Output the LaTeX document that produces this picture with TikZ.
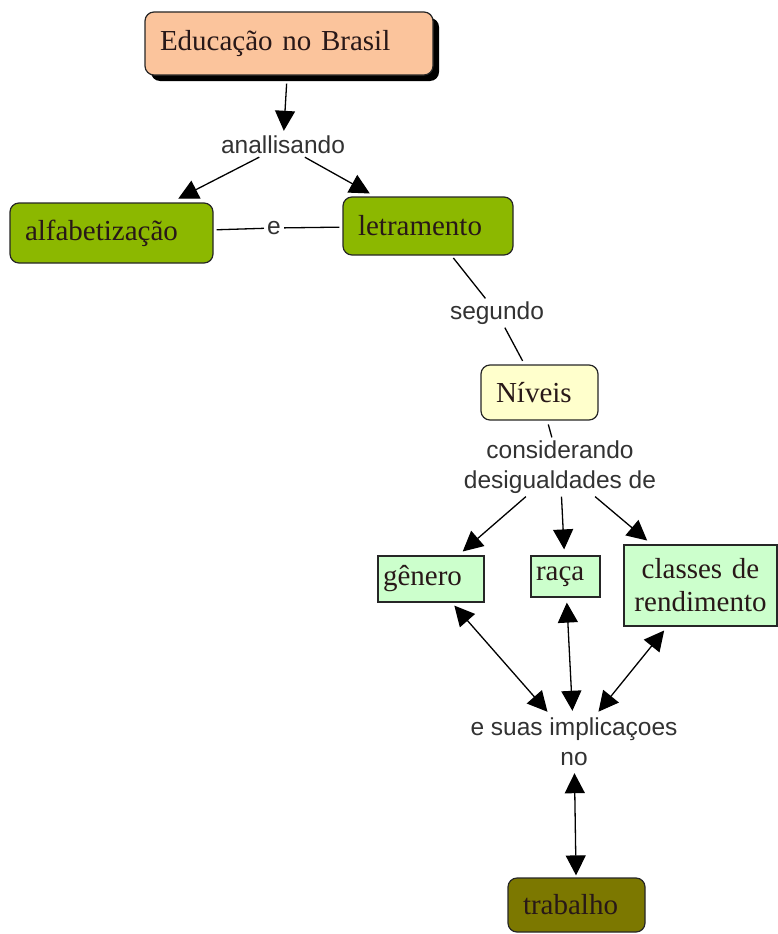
\documentclass[tikz,border=0pt]{standalone}
\usepackage{fontspec}
\setmainfont{Liberation Serif}
\newfontfamily\lblfont{Liberation Sans}
\usetikzlibrary{arrows.meta,shadows}
\definecolor{peach}{RGB}{251,196,156}
\definecolor{leaf}{RGB}{140,184,0}
\definecolor{cream}{RGB}{255,255,204}
\definecolor{mint}{RGB}{204,255,204}
\definecolor{olive}{RGB}{124,120,0}
\definecolor{ink}{RGB}{40,24,24}
\definecolor{lbl}{RGB}{50,50,50}
\tikzset{
  concept/.style={draw=black!85, line width=1.2pt, rounded corners=9pt,
    font=\fontsize{29}{33}\selectfont, text=ink, inner xsep=15pt, inner ysep=0pt,
    align=left},
  flatbox/.style={draw=black!85, line width=1.2pt,
    font=\fontsize{29}{33}\selectfont, text=ink, inner xsep=5pt, inner ysep=0pt,
    align=left},
  link/.style={font=\lblfont\fontsize{24.5}{30}\selectfont, text=lbl, align=center, inner sep=3pt},
  conn/.style={line width=1.3pt, black},
  arr/.style={conn, -{Triangle[length=20pt,width=20pt]}},
  darr/.style={conn, {Triangle[length=20pt,width=20pt]}-{Triangle[length=20pt,width=20pt]}},
}
\begin{document}
\begin{tikzpicture}[x=1pt,y=-1pt]
\useasboundingbox (0,0) rectangle (778,934);

% concepts (text width = box width - 2 * inner xsep)
\node[concept, fill=peach, text width=258pt, minimum height=63pt,
  drop shadow={shadow xshift=6pt, shadow yshift=-6pt, opacity=1, fill=black}]
  (edu) at (289,43.5) {Educação no Brasil};
\node[concept, fill=leaf, text width=173pt, minimum height=60pt] (alf) at (111.5,233) {alfabetização};
\node[concept, fill=leaf, text width=140pt, minimum height=58pt] (let) at (428,226) {letramento};
\node[concept, fill=cream, text width=87pt, minimum height=55pt] (niv) at (539.5,392.5) {Níveis};
\node[flatbox, fill=mint, text width=96pt, minimum height=46pt] (gen) at (431,579) {gênero};
\node[flatbox, fill=mint, text width=59pt, minimum height=41pt] (raca) at (565.5,576.5) {raça};
\node[flatbox, fill=mint, text width=143pt, minimum height=81pt, align=center] (cls) at (700.5,585.5) {classes de\\rendimento};
\node[concept, fill=olive, text width=107pt, minimum height=54pt] (trab) at (576.5,905) {trabalho};

% linking phrases
\node[link] (anal) at (283,145) {anallisando};
\node[link] (e) at (274,228) {e};
\node[link] (seg) at (497,313) {segundo};
\node[link] (cons) at (560,467) {considerando\\desigualdades de};
\node[link] (impl) at (574,742) {e suas implicaçoes\\no};

% connectors
\draw[arr, shorten <=8pt, shorten >=2pt] (edu) -- (anal);
\draw[arr, shorten >=8pt] (anal) -- (alf);
\draw[arr, shorten >=6pt] (anal) -- (let);
\draw[conn, shorten <=3pt] (alf) -- (e);
\draw[conn, shorten <=3pt] (let) -- (e);
\draw[conn, shorten <=3pt] (let) -- (seg);
\draw[conn, shorten >=4pt] (seg) -- (niv);
\draw[conn, shorten <=4pt] (niv) -- (cons);
\draw[arr, shorten >=6pt] (cons) -- (gen);
\draw[arr, shorten >=6pt] (cons) -- (raca);
\draw[arr, shorten >=6pt] (cons) -- (cls);
\draw[darr, shorten <=4pt, shorten >=4pt] (gen) -- (impl);
\draw[darr, shorten <=5pt, shorten >=4pt] (raca) -- (impl);
\draw[darr, shorten <=5pt, shorten >=4pt] (cls) -- (impl);
\draw[darr, shorten <=4pt, shorten >=2pt] (impl) -- (trab);
\end{tikzpicture}
\end{document}
